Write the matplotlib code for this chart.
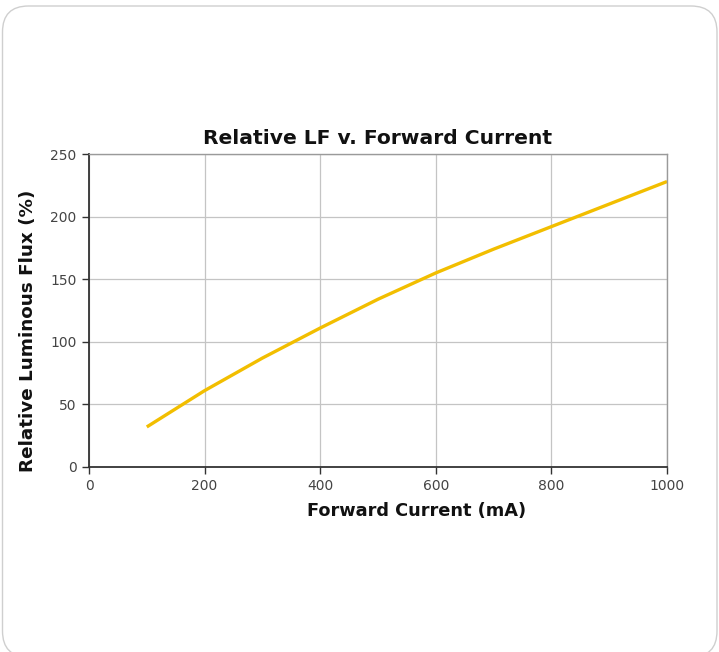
import matplotlib
matplotlib.use("Agg")
import matplotlib.pyplot as plt
from matplotlib.patches import FancyBboxPatch

current_ma = [100, 200, 300, 400, 500, 600, 700, 800, 900, 1000]
relative_flux = [32, 61, 87, 111, 134, 155, 174, 192, 210, 228]
x_ticks = [0, 200, 400, 600, 800, 1000]
y_ticks = [0, 50, 100, 150, 200, 250]

W, H = 719, 652
fig = plt.figure(figsize=(W/100, H/100), dpi=100)
fig.patch.set_facecolor("white")

# outer rounded frame (pixel units via inches); bottom edge runs off the image
frame = FancyBboxPatch((2.5/100, -5/100), 714.5/100, 651/100,
                       boxstyle="round,pad=0,rounding_size=0.26",
                       transform=fig.dpi_scale_trans, facecolor="none",
                       edgecolor="#cfcfcf", linewidth=1.0, zorder=-5)
fig.patches.append(frame)

x0, x1, ytop, ybot = 89, 667, 154, 467
ax = fig.add_axes([x0/W, 1 - ybot/H, (x1 - x0)/W, (ybot - ytop)/H])
ax.plot(current_ma, relative_flux, color="#F2BE00", linewidth=2.4, solid_capstyle="butt")
ax.set_xlim(0, 1000)
ax.set_ylim(0, 250)
ax.set_xticks(x_ticks)
ax.set_yticks(y_ticks)
ax.grid(True, color="#c4c4c4", linewidth=0.9)
ax.set_axisbelow(True)
for s in ["top", "right"]:
    ax.spines[s].set_color("#9a9a9a")
    ax.spines[s].set_linewidth(1.0)
for s in ["left", "bottom"]:
    ax.spines[s].set_color("#333333")
    ax.spines[s].set_linewidth(1.3)
ax.tick_params(axis="both", direction="out", length=5, width=1.0, color="#333333",
               labelsize=10, labelcolor="#444444", pad=4)
ax.set_title("Relative LF v. Forward Current", fontsize=14.6, fontweight="bold", pad=7, color="#111111")
ax.set_xlabel("Forward Current (mA)", fontsize=12.8, fontweight="bold", color="#111111")
ax.set_ylabel("Relative Luminous Flux (%)", fontsize=13.2, fontweight="bold", color="#111111")
ax.xaxis.set_label_coords((417 - x0)/(x1 - x0), (ybot - 502)/(ybot - ytop))
ax.yaxis.set_label_coords((37 - x0)/(x1 - x0), (ybot - 331)/(ybot - ytop))

fig.savefig("out.png", dpi=100)
